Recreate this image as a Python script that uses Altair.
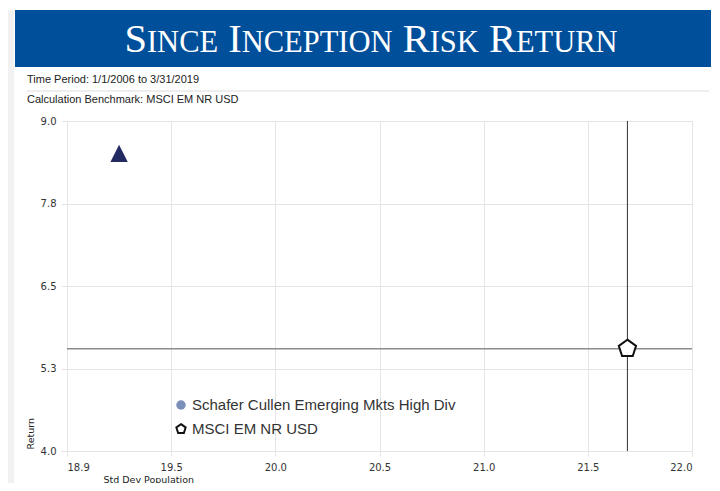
import altair as alt
import pandas as pd

# ---------------- data ----------------
series = ["Schafer Cullen Emerging Mkts High Div", "MSCI EM NR USD"]
std_dev = [19.25, 21.69]
returns = [8.51, 5.55]

x_ticks = [19.0, 19.5, 20.0, 20.5, 21.0, 21.5, 22.0]
x_labels = ["18.9", "19.5", "20.0", "20.5", "21.0", "21.5", "22.0"]
y_ticks = [4.0, 5.25, 6.5, 7.75, 9.0]
y_labels = ["4.0", "5.3", "6.5", "7.8", "9.0"]

title_text = "SINCE INCEPTION RISK RETURN"
subtitle_1 = "Time Period: 1/1/2006 to 3/31/2019"
subtitle_2 = "Calculation Benchmark: MSCI EM NR USD"
x_title = "Std Dev Population"
y_title = "Return"

# ---------------- layout ----------------
W, H = 625, 330
PAD = {"left": 59, "top": 113, "right": 19, "bottom": 32}
OX, OY = 8 + PAD["left"], 8 + PAD["top"]  # page position of plot origin
RIGHT = 8 + PAD["left"] + W + PAD["right"]
BOTTOM = 8 + PAD["top"] + H + PAD["bottom"]


def px(x):
    return x - OX


def py(y):
    return y - OY


def label_expr(values, labels):
    expr = "format(datum.value, '.1f')"
    for v, l in zip(reversed(values), reversed(labels)):
        expr = f"abs(datum.value - {v}) < 0.0001 ? '{l}' : ({expr})"
    return expr


AX_FONT = "DejaVu Sans"
GRID = "#e4e4e4"

x_enc = alt.X(
    "std:Q",
    scale=alt.Scale(domain=[x_ticks[0], x_ticks[-1]], nice=False, zero=False),
    axis=alt.Axis(
        values=x_ticks, labelExpr=label_expr(x_ticks, x_labels), title=x_title,
        grid=True, gridColor=GRID, domain=False, tickColor=GRID, tickSize=5,
        labelPadding=6, labelFont=AX_FONT, labelFontSize=10, labelColor="#333",
        titleFont=AX_FONT, titleFontSize=9.5, titleFontWeight="normal", titleColor="#222",
        titleAnchor="start", titleAlign="left", titleBaseline="top",
        titleX=103 - OX, titleY=474 - (OY + H),
    ),
)
y_enc = alt.Y(
    "ret:Q",
    scale=alt.Scale(domain=[y_ticks[0], y_ticks[-1]], nice=False, zero=False),
    axis=alt.Axis(
        values=y_ticks, labelExpr=label_expr(y_ticks, y_labels), title=y_title,
        grid=True, gridColor=GRID, domain=False, tickColor=GRID, tickSize=6,
        labelPadding=5, labelFont=AX_FONT, labelFontSize=10, labelColor="#333",
        titleFont=AX_FONT, titleFontSize=9.5, titleFontWeight="normal", titleColor="#222",
        titleAngle=270, titleAlign="left", titleBaseline="middle",
        titleX=30 - OX, titleY=449 - OY,
    ),
)

df = pd.DataFrame({"series": series, "std": std_dev, "ret": returns})
fund = df.iloc[[0]]
bench = df.iloc[[1]]

TRI = "M0,-1L1,1L-1,1Z"
PENT = "M0,-1L0.951,-0.309L0.588,0.809L-0.588,0.809L-0.951,-0.309Z"

layers = []

# left shadow strip
one = pd.DataFrame({"k": [0]})
layers.append(
    alt.Chart(one).mark_rect(color="#f1f1f1").encode(
        x=alt.value(px(8)), x2=alt.value(px(14)), y=alt.value(py(10)), y2=alt.value(py(BOTTOM))
    )
)
# banner
layers.append(
    alt.Chart(one).mark_rect(color="#004f9b").encode(
        x=alt.value(px(15)), x2=alt.value(px(RIGHT)), y=alt.value(py(10)), y2=alt.value(py(67))
    )
)

# small-caps title built from pieces
TIMES_W = {"S": .556, "I": .333, "N": .722, "C": .667, "E": .611, "P": .556, "T": .611,
           "O": .722, "R": .667, "K": .722, "U": .722, " ": .25}
BIG, SMALL = 40.5, 30.5
pieces = []
for i, word in enumerate(title_text.split(" ")):
    if i:
        pieces.append((" ", BIG))
    pieces.append((word[0], BIG))
    pieces.append((word[1:], SMALL))
total = sum(sum(TIMES_W[c] for c in s) * sz for s, sz in pieces)
cur = 371 - total / 2
for s, sz in pieces:
    w = sum(TIMES_W[c] for c in s) * sz
    if s.strip():
        layers.append(
            alt.Chart(pd.DataFrame({"t": [s]})).mark_text(
                align="left", baseline="alphabetic", font="Liberation Serif",
                fontSize=sz, color="white"
            ).encode(text="t:N", x=alt.value(px(cur)), y=alt.value(py(52)))
        )
    cur += w

# subtitles
for txt, yy in [(subtitle_1, 80), (subtitle_2, 100)]:
    layers.append(
        alt.Chart(pd.DataFrame({"t": [txt]})).mark_text(
            align="left", baseline="middle", font="Liberation Sans", fontSize=11, color="#222"
        ).encode(text="t:N", x=alt.value(px(27)), y=alt.value(py(yy)))
    )
layers.append(
    alt.Chart(one).mark_rule(color="#dddddd", strokeWidth=1).encode(
        x=alt.value(px(27)), x2=alt.value(px(RIGHT - 2)), y=alt.value(py(91))
    )
)

# benchmark cross lines
layers.append(
    alt.Chart(bench).mark_rule(color="#8c8c8c", strokeWidth=1.6).encode(y=y_enc)
)
layers.append(
    alt.Chart(bench).mark_rule(color="#333333", strokeWidth=1).encode(x=x_enc)
)

# points
layers.append(
    alt.Chart(fund).mark_point(shape=TRI, size=300, filled=True, color="#232a62", opacity=1).encode(
        x=x_enc, y=y_enc
    )
)
layers.append(
    alt.Chart(bench).mark_point(shape=PENT, size=330, filled=False, fill="white", fillOpacity=1,
                                stroke="#111111", strokeWidth=2, opacity=1).encode(
        x=x_enc, y=y_enc
    )
)

# manual legend
layers.append(
    alt.Chart(one).mark_point(shape="circle", size=90, filled=True, color="#7b8fb8", opacity=1).encode(
        x=alt.value(px(181)), y=alt.value(py(405))
    )
)
layers.append(
    alt.Chart(one).mark_point(shape=PENT, size=95, filled=False, fill="white", fillOpacity=1,
                              stroke="#111111", strokeWidth=2, opacity=1).encode(
        x=alt.value(px(181)), y=alt.value(py(429))
    )
)
for name, yy in zip(series, [405, 429]):
    layers.append(
        alt.Chart(pd.DataFrame({"t": [name]})).mark_text(
            align="left", baseline="middle", font="Liberation Sans", fontSize=15, color="#333333"
        ).encode(text="t:N", x=alt.value(px(192)), y=alt.value(py(yy)))
    )

chart = alt.layer(*layers).properties(
    width=W, height=H, padding=PAD, autosize=alt.AutoSizeParams(type="none"),
    background="white",
).configure_view(stroke=None)

chart.save("out.html", embed_options={"renderer": "svg", "actions": False})
